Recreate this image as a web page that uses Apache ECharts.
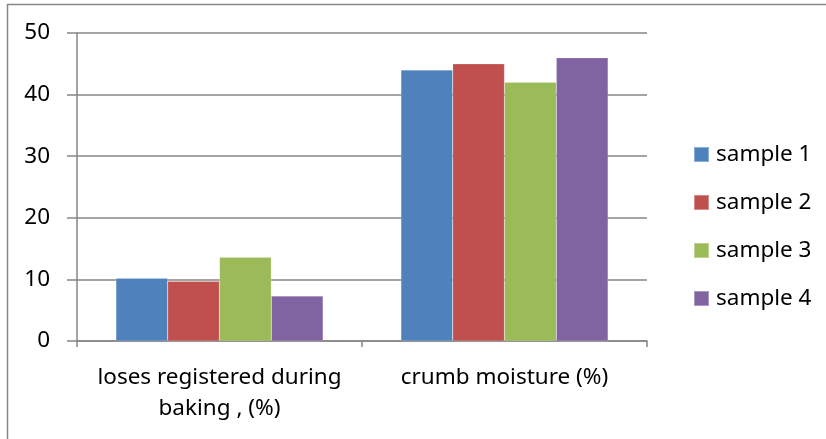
<!DOCTYPE html>
<html>
<head>
<meta charset="utf-8">
<script src="https://cdn.jsdelivr.net/npm/echarts@6/dist/echarts.min.js"></script>
<style>
  html, body { margin: 0; padding: 0; background: #fff; }
  #chart { width: 826px; height: 439px; }
</style>
</head>
<body>
<div id="chart"></div>
<script>
// Bread quality indicators per sample
const categories = ['loses registered during\nbaking , (%)', 'crumb moisture (%)'];
const sample1 = [10.2, 44];
const sample2 = [9.7, 45];
const sample3 = [13.6, 42];
const sample4 = [7.3, 46];
const seriesNames = ['sample 1', 'sample 2', 'sample 3', 'sample 4'];
const seriesValues = [sample1, sample2, sample3, sample4];
const colors = ['#4F81BD', '#C0504D', '#9BBB59', '#8064A2'];

const font = '"Noto Sans", "Open Sans", sans-serif';
const lineGray = '#868686';
const chart = echarts.init(document.getElementById('chart'), null, { renderer: 'canvas' });

chart.setOption({
  animation: false,
  backgroundColor: '#fff',
  graphic: [{
    type: 'rect',
    shape: { x: 7.5, y: 4.5, width: 830, height: 450 },
    style: { fill: 'none', stroke: lineGray, lineWidth: 1.5 },
    silent: true
  }],
  grid: { left: 77, right: 179, top: 33, bottom: 98, containLabel: false },
  legend: {
    orient: 'vertical',
    left: 688,
    top: 138,
    itemWidth: 15,
    itemHeight: 15,
    itemGap: 25,
    icon: 'rect',
    textStyle: { fontFamily: font, fontSize: 22.5, color: '#000', padding: [0, 0, 0, 2] },
    data: seriesNames
  },
  xAxis: {
    type: 'category',
    data: categories,
    axisLine: { lineStyle: { color: lineGray, width: 1.5 } },
    axisTick: { show: true, length: 6, lineStyle: { color: lineGray, width: 1.5 } },
    axisLabel: { fontFamily: font, fontSize: 22.5, color: '#000', margin: 21, lineHeight: 31, interval: 0 },
    splitLine: { show: false }
  },
  yAxis: {
    type: 'value',
    min: 0,
    max: 50,
    interval: 10,
    axisLine: { show: true, lineStyle: { color: lineGray, width: 1.5 } },
    axisTick: { show: true, inside: false, length: 10, lineStyle: { color: lineGray, width: 1.5 } },
    axisLabel: { fontFamily: font, fontSize: 22.5, color: '#000', margin: 27 },
    splitLine: { lineStyle: { color: lineGray, width: 1.5 } }
  },
  series: seriesNames.map((name, i) => ({
    name,
    type: 'bar',
    data: seriesValues[i],
    barGap: '0%',
    barCategoryGap: '27.3%',
    itemStyle: { color: colors[i], borderColor: 'rgba(255,255,255,0.35)', borderWidth: 0.5 }
  }))
});
</script>
</body>
</html>
